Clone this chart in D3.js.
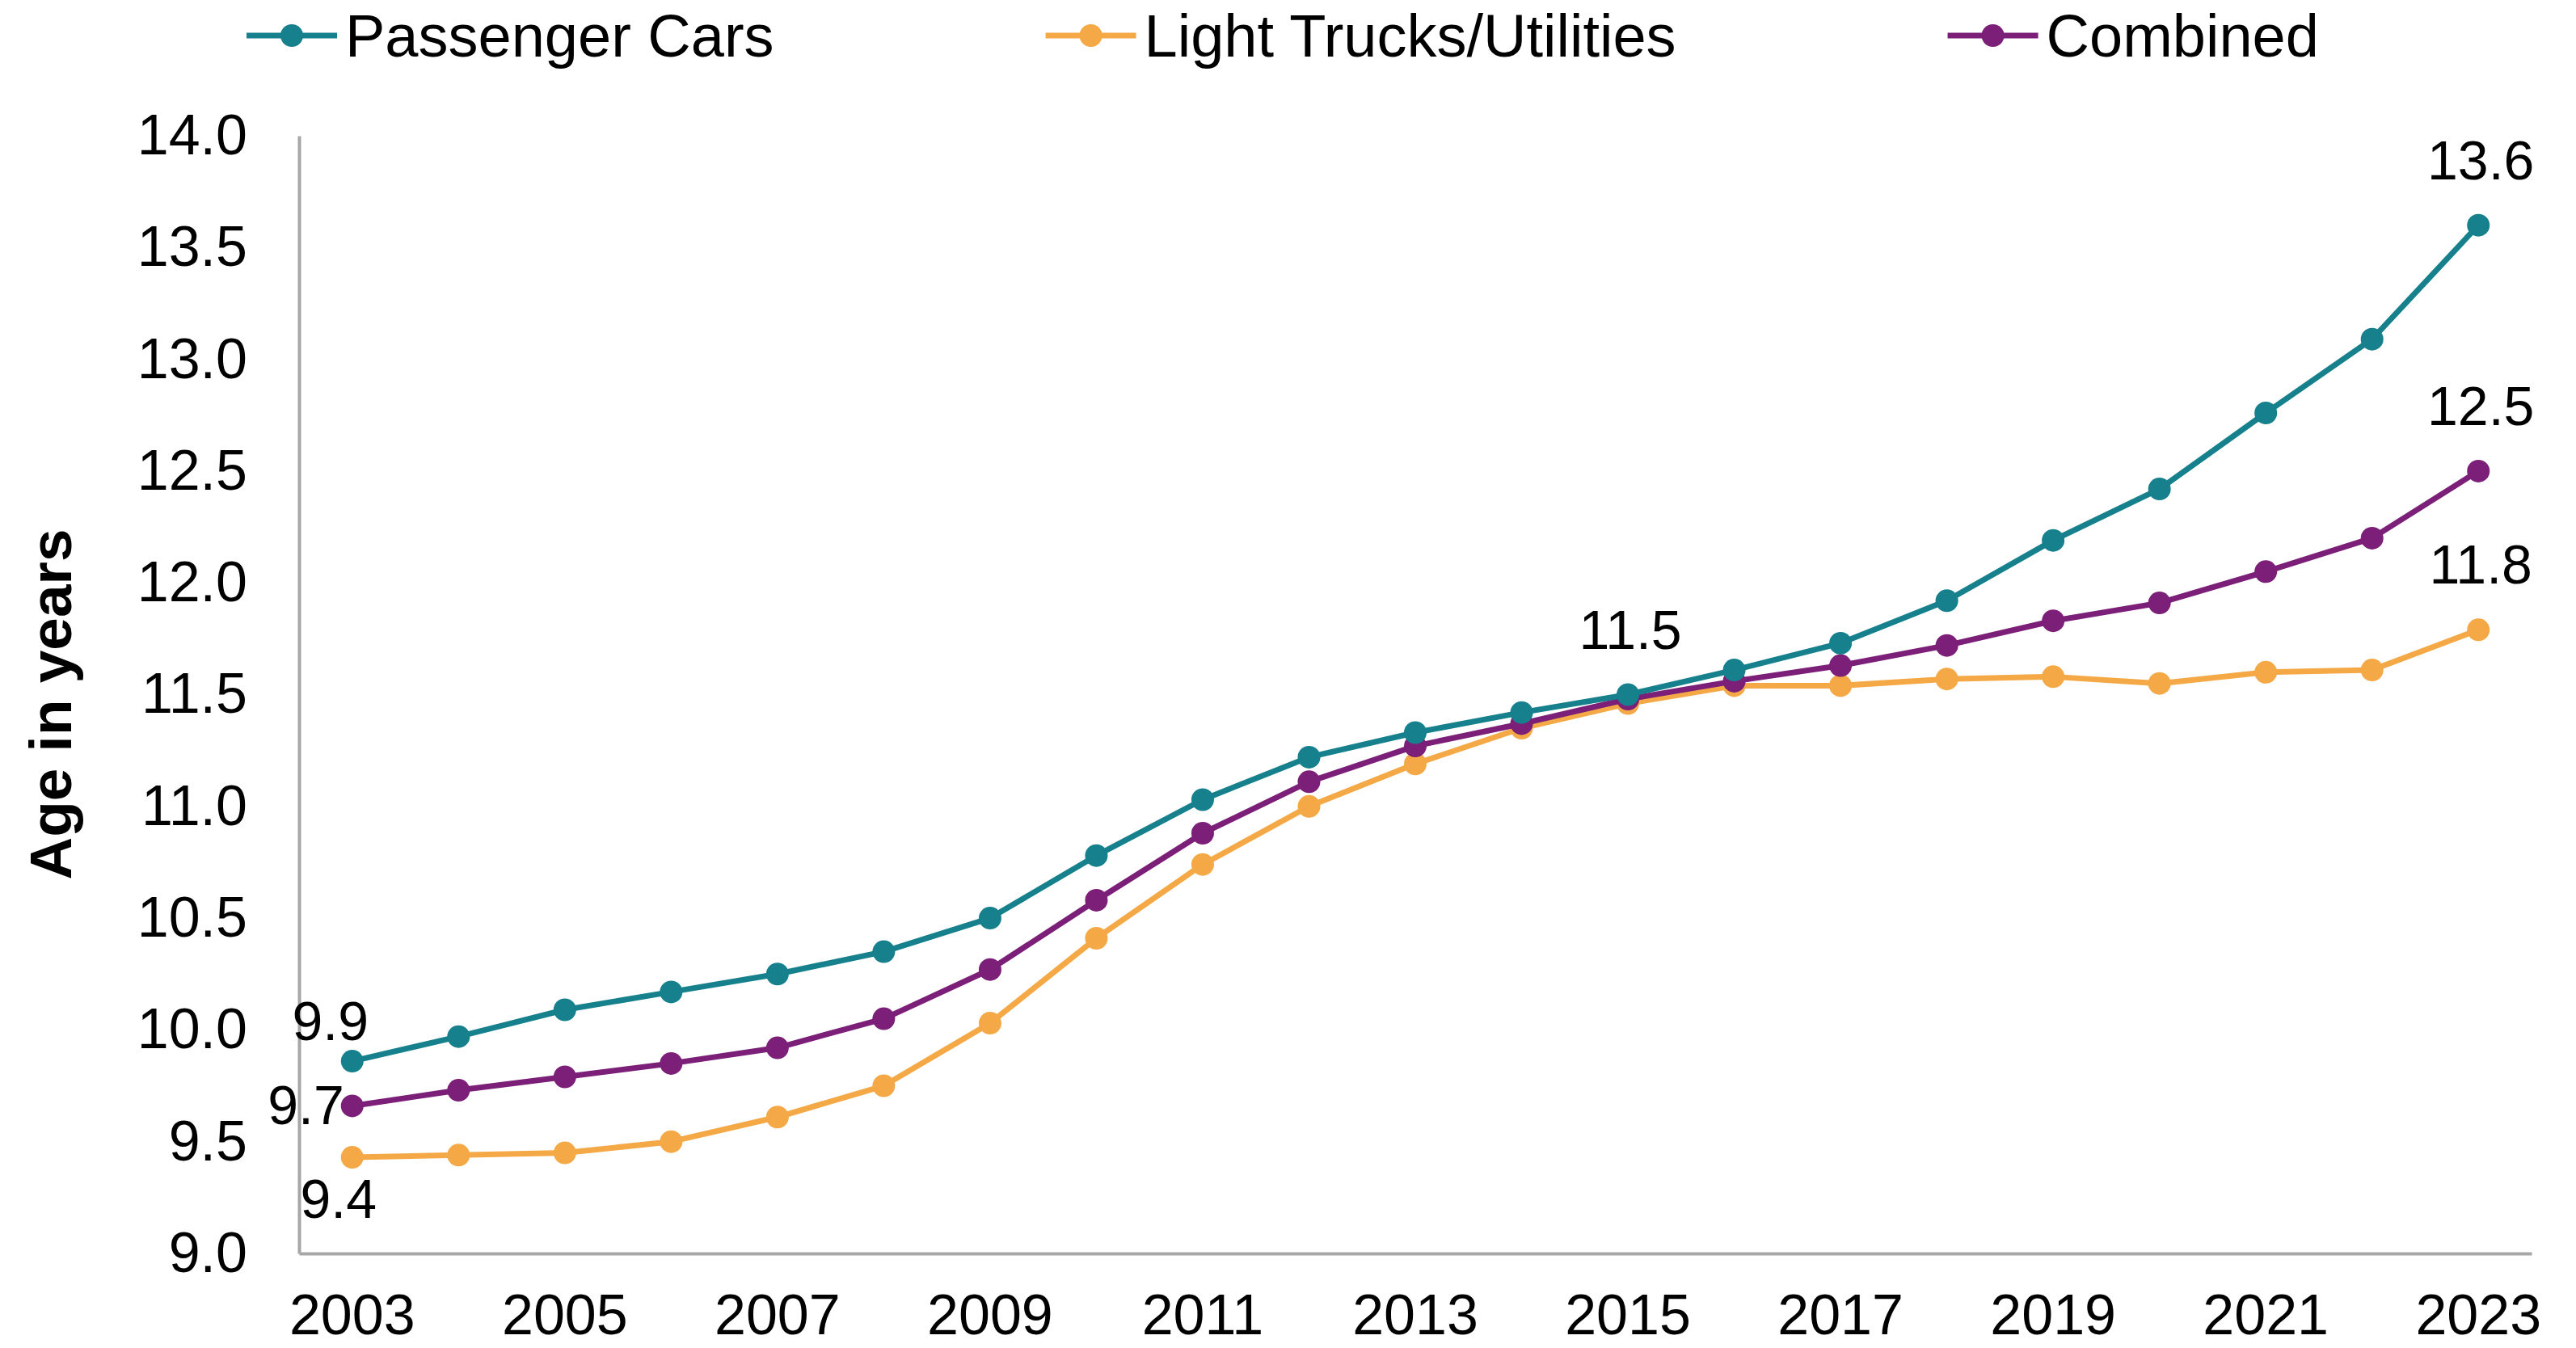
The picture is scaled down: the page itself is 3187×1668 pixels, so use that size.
<!DOCTYPE html>
<html>
<head>
<meta charset="utf-8">
<script src="https://cdn.jsdelivr.net/npm/d3@7"></script>
<style>
  html, body { margin: 0; padding: 0; background: #ffffff; }
  svg { display: block; }
  text { font-family: "Liberation Sans", Arial, sans-serif; fill: #000; }
</style>
</head>
<body>
<svg id="chart" width="3187" height="1668"></svg>
<script>
// ---- data ----
const years = [2003, 2004, 2005, 2006, 2007, 2008, 2009, 2010, 2011, 2012, 2013,
               2014, 2015, 2016, 2017, 2018, 2019, 2020, 2021, 2022, 2023];
const passengerCars = [9.86, 9.97, 10.09, 10.17, 10.25, 10.35, 10.50, 10.78, 11.03, 11.22, 11.33,
                       11.42, 11.50, 11.61, 11.73, 11.92, 12.19, 12.42, 12.76, 13.09, 13.60];
const lightTrucks = [9.43, 9.44, 9.45, 9.50, 9.61, 9.75, 10.03, 10.41, 10.74, 11.00, 11.19,
                     11.35, 11.46, 11.54, 11.54, 11.57, 11.58, 11.55, 11.60, 11.61, 11.79];
const combined = [9.66, 9.73, 9.79, 9.85, 9.92, 10.05, 10.27, 10.58, 10.88, 11.11, 11.27,
                  11.37, 11.48, 11.56, 11.63, 11.72, 11.83, 11.91, 12.05, 12.20, 12.50];
const seriesNames = ["Passenger Cars", "Light Trucks/Utilities", "Combined"];
const seriesColors = ["#16808C", "#F4A946", "#7B1F78"];
const yTicks = [9.0, 9.5, 10.0, 10.5, 11.0, 11.5, 12.0, 12.5, 13.0, 13.5, 14.0];
const xTickYears = [2003, 2005, 2007, 2009, 2011, 2013, 2015, 2017, 2019, 2021, 2023];
const yAxisTitle = "Age in years";
// data labels: [series index, year, text, placement]
const dataLabels = [
  [0, 2003, "9.9", "aboveNear"],
  [2, 2003, "9.7", "left"],
  [1, 2003, "9.4", "below"],
  [0, 2015, "11.5", "above"],
  [0, 2023, "13.6", "above"],
  [2, 2023, "12.5", "above"],
  [1, 2023, "11.8", "above"]
];

const seriesValues = [passengerCars, lightTrucks, combined];

// ---- layout ----
const svg = d3.select("#chart");
const plot = { left: 370, right: 3132, top: 168, bottom: 1551 };
const axisColor = "#A6A6A6";

const x = d3.scaleBand().domain(years).range([plot.left, plot.right]).paddingInner(0).paddingOuter(0);
const cx = yr => x(yr) + x.bandwidth() / 2;
const y = d3.scaleLinear().domain([9, 14]).range([plot.bottom, plot.top]);

// Y axis
const yAxis = svg.append("g")
  .attr("transform", `translate(${plot.left},0)`)
  .call(d3.axisLeft(y).tickValues(yTicks).tickSize(0).tickSizeOuter(0).tickPadding(64)
        .tickFormat(d3.format(".1f")));
yAxis.select(".domain").attr("stroke", axisColor).attr("stroke-width", 4);
yAxis.selectAll("text").attr("font-size", 70).attr("fill", "#000")
  .attr("font-family", "Liberation Sans, Arial, sans-serif");

// X axis
const xAxis = svg.append("g")
  .attr("transform", `translate(0,${plot.bottom})`)
  .call(d3.axisBottom(x).tickValues(xTickYears).tickSize(0).tickSizeOuter(0).tickPadding(50));
xAxis.select(".domain").attr("stroke", axisColor).attr("stroke-width", 4);
xAxis.selectAll("text").attr("font-size", 70).attr("fill", "#000")
  .attr("font-family", "Liberation Sans, Arial, sans-serif");

// Y axis title
svg.append("text")
  .attr("transform", `translate(88,${(plot.top + plot.bottom) / 2 + 12}) rotate(-90)`)
  .attr("text-anchor", "middle")
  .attr("font-size", 73)
  .attr("font-weight", "bold")
  .text(yAxisTitle);

// Lines and markers
const line = d3.line().x((d, i) => cx(years[i])).y(d => y(d));
const drawOrder = [1, 2, 0];
drawOrder.forEach(si => {
  const vals = seriesValues[si];
  const g = svg.append("g");
  g.append("path")
    .datum(vals)
    .attr("d", line)
    .attr("fill", "none")
    .attr("stroke", seriesColors[si])
    .attr("stroke-width", 7)
    .attr("stroke-linejoin", "round");
  g.selectAll("circle")
    .data(vals)
    .join("circle")
    .attr("cx", (d, i) => cx(years[i]))
    .attr("cy", d => y(d))
    .attr("r", 14)
    .attr("fill", seriesColors[si]);
});

// Data labels
dataLabels.forEach(([si, yr, txt, place]) => {
  const v = seriesValues[si][years.indexOf(yr)];
  const px = cx(yr), py = y(v);
  const t = svg.append("text").attr("font-size", 68).text(txt);
  if (place === "above") {
    t.attr("x", px + 3).attr("y", py - 57).attr("text-anchor", "middle");
  } else if (place === "aboveNear") {
    t.attr("x", px - 27).attr("y", py - 26).attr("text-anchor", "middle");
  } else if (place === "below") {
    t.attr("x", px - 17).attr("y", py + 75).attr("text-anchor", "middle");
  } else {
    t.attr("x", px - 10).attr("y", py + 23).attr("text-anchor", "end");
  }
});

// Legend
const legend = svg.append("g");
let lx = 305;
const ly = 44;
seriesNames.forEach((name, si) => {
  const g = legend.append("g");
  g.append("line")
    .attr("x1", lx).attr("x2", lx + 112)
    .attr("y1", ly).attr("y2", ly)
    .attr("stroke", seriesColors[si]).attr("stroke-width", 7);
  g.append("circle")
    .attr("cx", lx + 56).attr("cy", ly).attr("r", 14)
    .attr("fill", seriesColors[si]);
  const t = g.append("text")
    .attr("x", lx + 122).attr("y", 70)
    .attr("font-size", 74)
    .text(name);
  const w = t.node().getComputedTextLength();
  lx = lx + 122 + w + 336;
});
</script>
</body>
</html>
